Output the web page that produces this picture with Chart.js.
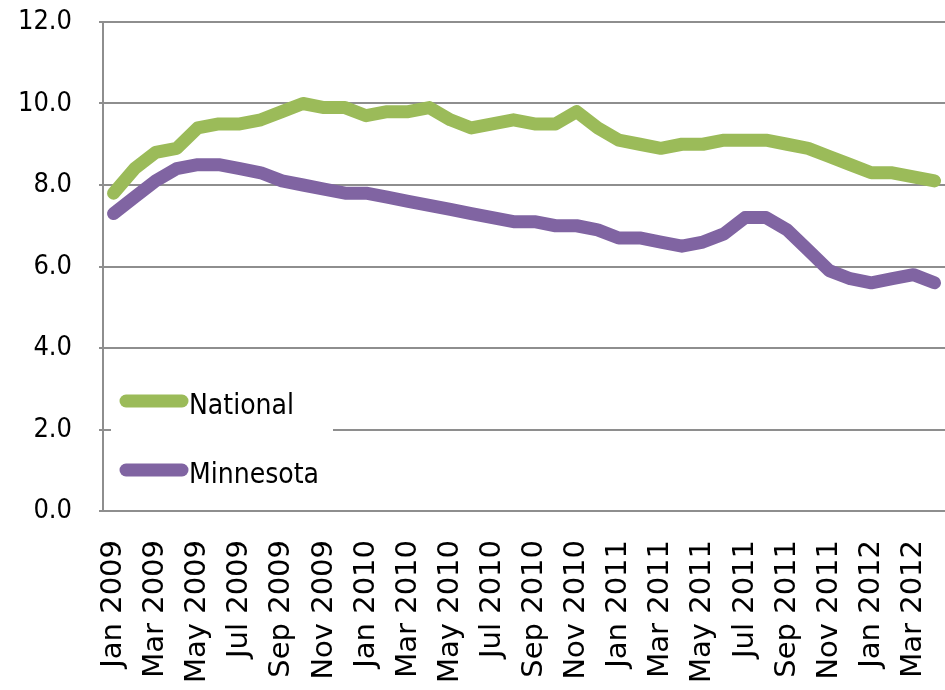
<!DOCTYPE html>
<html><head><meta charset="utf-8">
<script src="https://cdn.jsdelivr.net/npm/chart.js@4.4.0/dist/chart.umd.min.js"></script>
<style>html,body{margin:0;padding:0;background:#fff;}#wrap{width:945px;height:690px;}</style>
</head><body><div id="wrap"><canvas id="c" width="945" height="690"></canvas></div>
<script>
const months = ["Jan 2009","Feb 2009","Mar 2009","Apr 2009","May 2009","Jun 2009","Jul 2009","Aug 2009","Sep 2009","Oct 2009","Nov 2009","Dec 2009",
  "Jan 2010","Feb 2010","Mar 2010","Apr 2010","May 2010","Jun 2010","Jul 2010","Aug 2010","Sep 2010","Oct 2010","Nov 2010","Dec 2010",
  "Jan 2011","Feb 2011","Mar 2011","Apr 2011","May 2011","Jun 2011","Jul 2011","Aug 2011","Sep 2011","Oct 2011","Nov 2011","Dec 2011",
  "Jan 2012","Feb 2012","Mar 2012","Apr 2012"];
const national = [7.8,8.4,8.8,8.9,9.4,9.5,9.5,9.6,9.8,10.0,9.9,9.9,
  9.7,9.8,9.8,9.9,9.6,9.4,9.5,9.6,9.5,9.5,9.8,9.4,
  9.1,9.0,8.9,9.0,9.0,9.1,9.1,9.1,9.0,8.9,8.7,8.5,
  8.3,8.3,8.2,8.1];
const minnesota = [7.3,7.7,8.1,8.4,8.5,8.5,8.4,8.3,8.1,8.0,7.9,7.8,
  7.8,7.7,7.6,7.5,7.4,7.3,7.2,7.1,7.1,7.0,7.0,6.9,
  6.7,6.7,6.6,6.5,6.6,6.8,7.2,7.2,6.9,6.4,5.9,5.7,
  5.6,5.7,5.8,5.6];
const seriesNames = ["National","Minnesota"];
const seriesColors = ["#9BBB59","#8064A2"];
const yMin = 0, yMax = 12, yStep = 2;

const narrow = '"DejaVu Sans Condensed","Liberation Sans Narrow",sans-serif';

const insideLegend = {
  id: 'insideLegend',
  afterDraw(chart) {
    const c = chart.ctx;
    c.save();
    c.fillStyle = '#fff';
    c.fillRect(111, 356, 222, 148);
    chart.data.datasets.forEach((ds, i) => {
      const y = 401 + i * 69;
      c.strokeStyle = ds.borderColor;
      c.lineWidth = 13;
      c.lineCap = 'round';
      c.beginPath();
      c.moveTo(126, y);
      c.lineTo(182, y);
      c.stroke();
      c.fillStyle = '#000';
      c.font = '28px ' + narrow;
      c.textBaseline = 'alphabetic';
      c.textAlign = 'left';
      c.fillText(ds.label, 189, y + 13);
    });
    c.restore();
  }
};

new Chart(document.getElementById('c'), {
  type: 'line',
  data: {
    labels: months,
    datasets: [
      { label: seriesNames[0], data: national, borderColor: seriesColors[0], backgroundColor: seriesColors[0] },
      { label: seriesNames[1], data: minnesota, borderColor: seriesColors[1], backgroundColor: seriesColors[1] }
    ]
  },
  options: {
    responsive: false,
    animation: false,
    layout: { padding: { top: 22, left: 0, right: 0, bottom: 0 } },
    plugins: { legend: { display: false }, tooltip: { enabled: false } },
    elements: {
      point: { radius: 0 },
      line: { borderWidth: 13, tension: 0, borderJoinStyle: 'round', borderCapStyle: 'round', fill: false }
    },
    scales: {
      x: {
        offset: true,
        grid: { display: true, drawOnChartArea: false, drawTicks: false },
        border: { color: '#8e8e8e', width: 2 },
        ticks: {
          autoSkip: false, maxRotation: 90, minRotation: 90, padding: 29, color: '#000',
          font: { family: 'DejaVu Sans', size: 29 },
          callback: (v, i) => (i % 2 === 0 ? months[i] : '')
        },
        afterFit: s => { s.height = 179; s.paddingLeft = 0; s.paddingRight = 0; }
      },
      y: {
        min: yMin, max: yMax,
        ticks: { stepSize: yStep, padding: 27, color: '#000', font: { family: narrow, size: 27 }, callback: v => Number(v).toFixed(1) },
        grid: { color: '#8e8e8e', lineWidth: 2, tickLength: 4 },
        border: { color: '#8e8e8e', width: 2 },
        afterFit: s => { s.width = 103; s.paddingTop = 0; s.paddingBottom = 0; }
      }
    }
  },
  plugins: [insideLegend]
});
</script></body></html>
